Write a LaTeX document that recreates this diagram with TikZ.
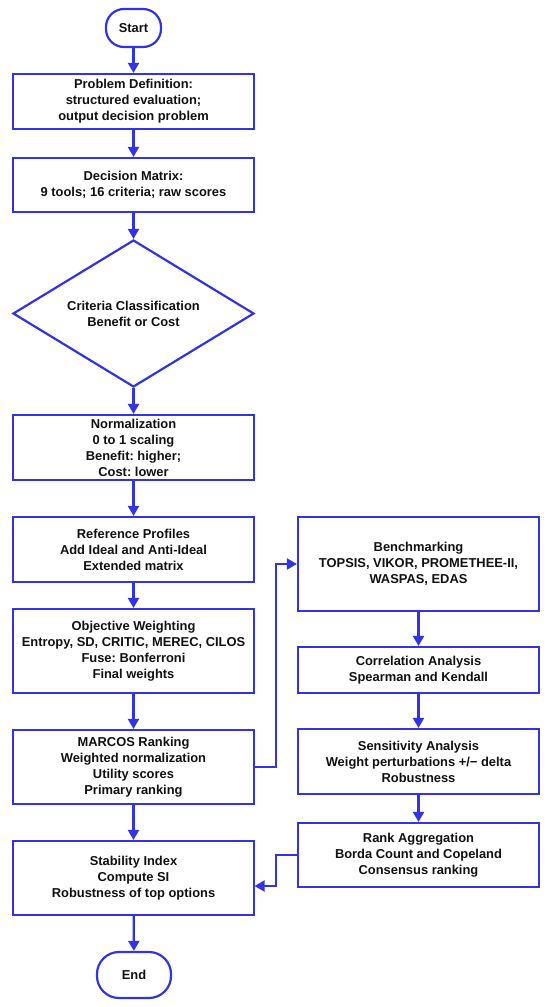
\documentclass[tikz,border=0pt]{standalone}
\usepackage{fontspec}
\setmainfont{Liberation Sans}
\usetikzlibrary{shapes.geometric,arrows.meta}
\definecolor{fblue}{HTML}{3333E6}
\definecolor{ftext}{HTML}{111111}
\frenchspacing
\begin{document}
\begin{tikzpicture}[x=1pt,y=-1pt,
  every node/.style={font=\fontsize{12.9}{16}\selectfont\bfseries, text=ftext, align=center},
  box/.style={draw=fblue, line width=2.2pt, rectangle, minimum width=241pt, inner sep=0pt, fill=white},
  term/.style={draw=fblue, line width=2.2pt, rectangle, rounded corners=18pt, inner sep=0pt},
  dec/.style={draw=fblue, line width=2.2pt, diamond, minimum width=241pt, minimum height=147pt, inner sep=0pt},
  arr/.style={draw=fblue, line width=2.2pt, -{Triangle[length=10pt,width=11pt]}}
]
\useasboundingbox (0,0) rectangle (550,1007);
\fill[white] (0,0) rectangle (550,1007);

\node[term, minimum width=55pt, minimum height=38pt] (start) at (133.5,28) {Start};
\node[box, minimum height=55pt] (pd) at (133.5,101.5) {Problem Definition:\\structured evaluation;\\output decision problem};
\node[box, minimum height=54pt] (dm) at (133.5,185) {Decision Matrix:\\9 tools; 16 criteria; raw scores};
\node[dec, label={[align=center]center:Criteria Classification\\Benefit or Cost}] (cc) at (133.5,313.5) {};
\node[box, minimum height=65pt] (norm) at (133.5,447.5) {Normalization\\0 to 1 scaling\\Benefit: higher;\\Cost: lower};
\node[box, minimum height=65pt] (ref) at (133.5,549.5) {Reference Profiles\\Add Ideal and Anti-Ideal\\Extended matrix};
\node[box, minimum height=84pt] (ow) at (133.5,651) {Objective Weighting\\Entropy, SD, CRITIC, MEREC, CILOS\\Fuse: Bonferroni\\Final weights};
\node[box, minimum height=74pt] (mar) at (133.5,767) {MARCOS Ranking\\Weighted normalization\\Utility scores\\Primary ranking};
\node[box, minimum height=74pt] (stab) at (133.5,878) {Stability Index\\Compute SI\\Robustness of top options};
\node[term, minimum width=74pt, minimum height=46pt, rounded corners=22pt] (end) at (134,975) {End};

\node[box, minimum height=94pt] (bench) at (418.5,564) {Benchmarking\\TOPSIS, VIKOR, PROMETHEE-II,\\WASPAS, EDAS};
\node[box, minimum height=46pt] (corr) at (418.5,670) {Correlation Analysis\\Spearman and Kendall};
\node[box, minimum height=65pt] (sens) at (418.5,761.5) {Sensitivity Analysis\\Weight perturbations +/\textminus\ delta\\Robustness};
\node[box, minimum height=64pt] (rank) at (418.5,855) {Rank Aggregation\\Borda Count and Copeland\\Consensus ranking};

\coordinate (sin) at (254.6,886);

\draw[arr] (start) -- (pd);
\draw[arr] (pd) -- (dm);
\draw[arr] (dm) -- (cc);
\draw[arr] (cc) -- (norm);
\draw[arr] (norm) -- (ref);
\draw[arr] (ref) -- (ow);
\draw[arr] (ow) -- (mar);
\draw[arr] (mar) -- (stab);
\draw[arr] (stab) -- (end);
\draw[arr] (mar.east) -- (276,767) -- (276,564) -- (bench.west);
\draw[arr] (bench) -- (corr);
\draw[arr] (corr) -- (sens);
\draw[arr] (sens) -- (rank);
\draw[arr] (rank.west) -- (276,855) -- (276,886) -- (sin);
\end{tikzpicture}
\end{document}
